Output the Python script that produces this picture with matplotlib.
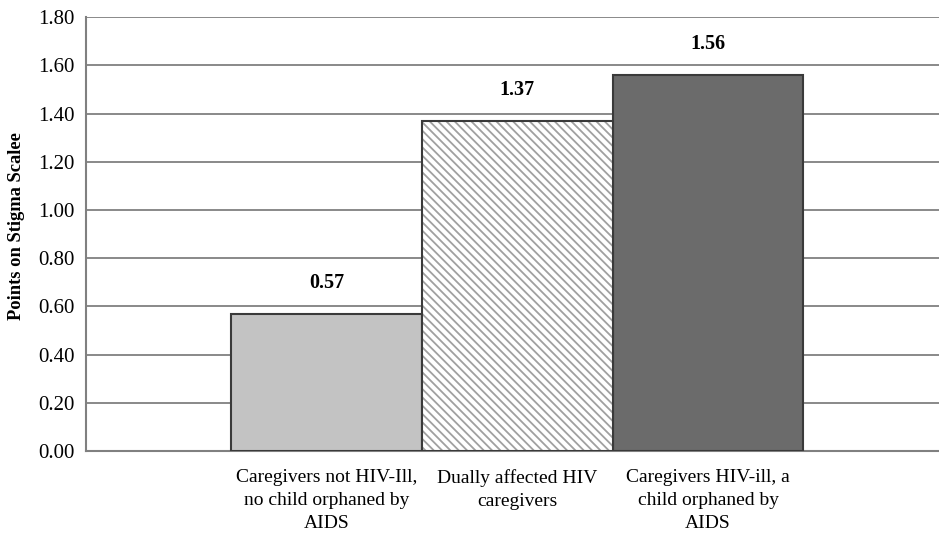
import matplotlib
matplotlib.use("Agg")
from matplotlib import pyplot as plt

# chart data
categories = ["Caregivers not HIV-Ill,\nno child orphaned by\nAIDS",
              "Dually affected HIV\ncaregivers",
              "Caregivers HIV-ill, a\nchild orphaned by\nAIDS"]
values = [0.57, 1.37, 1.56]
value_labels = ["0.57", "1.37", "1.56"]
yticks = [0.0, 0.2, 0.4, 0.6, 0.8, 1.0, 1.2, 1.4, 1.6, 1.8]

plt.rcParams['font.family'] = ['Liberation Serif', 'DejaVu Serif']
plt.rcParams['hatch.color'] = '#a0a0a0'
plt.rcParams['hatch.linewidth'] = 1.3

fig = plt.figure(figsize=(9.39, 5.35), dpi=100)
ax = fig.add_axes([0.0916, 0.157, 0.9084, 0.811])

x = [0, 1, 2]
edge = '#3a3a3a'
# first and third bars: solid fills
ax.bar(x[0], values[0], width=1.0, color='#c3c3c3', edgecolor=edge, linewidth=1.5, zorder=3)
ax.bar(x[2], values[2], width=1.0, color='#6b6b6b', edgecolor=edge, linewidth=1.5, zorder=3)
# middle bar: hatched, then outline on top
ax.bar(x[1], values[1], width=1.0, color='white', edgecolor='#a0a0a0', hatch='\\\\\\\\',
       linewidth=0, zorder=3)
ax.bar(x[1], values[1], width=1.0, fill=False, edgecolor=edge, linewidth=1.5, zorder=4)

for xi, v, lab in zip(x, values, value_labels):
    ax.annotate(lab, (xi, v), xytext=(0, 22), textcoords='offset points',
                ha='center', va='center', fontsize=14.5, fontweight='bold')

ax.set_ylim(0, 1.8)
ax.set_xlim(-1.259, 3.21)
ax.set_yticks(yticks)
ax.set_yticklabels(["%.2f" % t for t in yticks], fontsize=15)
ax.set_xticks(x)
ax.set_xticklabels(categories, fontsize=14, linespacing=1.45)
ax.tick_params(axis='both', length=0)
ax.tick_params(axis='x', pad=13)
ax.tick_params(axis='y', pad=8)

ax.grid(axis='y', color='#808080', linewidth=1.3, zorder=0)
ax.set_axisbelow(True)
for s in ['top', 'right']:
    ax.spines[s].set_visible(False)
for s in ['left', 'bottom']:
    ax.spines[s].set_color('#808080')
    ax.spines[s].set_linewidth(1.5)

ax.set_ylabel("Points on Stigma Scalee", fontsize=13.3, fontweight='bold')
ax.yaxis.set_label_coords(-0.0715, 0.518)

fig.savefig("out.png", dpi=100)
